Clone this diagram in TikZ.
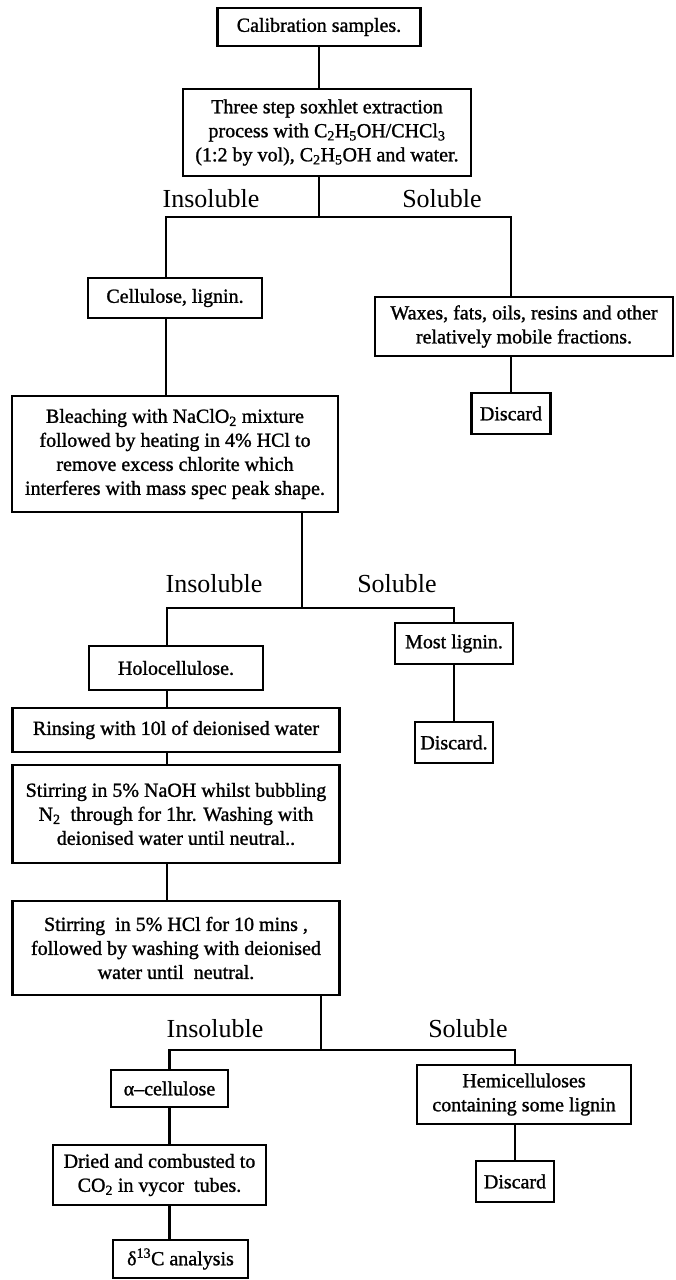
\documentclass[tikz,border=0pt]{standalone}
\usepackage{fontspec}
\setmainfont{Liberation Serif}[BoldFont={Liberation Serif}, BoldFeatures={FakeBold=1.2}]
\usetikzlibrary{positioning}

\begin{document}
\begin{tikzpicture}[
    box/.style={rectangle, draw, line width=2.4pt, align=center, inner sep=2pt, outer sep=0pt, font=\fontsize{20}{24}\selectfont\bfseries},
    branchlabel/.style={anchor=base, font=\fontsize{26}{30}\selectfont},
    line/.style={line width=2.4pt, -}
]

\path[use as bounding box] (0pt,0pt) rectangle (675pt,-1280pt);

% Nodes

\node[box, minimum width=203pt, minimum height=38pt] (calib) at (319pt,-27pt) {Calibration samples.};

\node[box, minimum width=288pt, minimum height=87pt, below=43pt of calib, xshift=8pt] (soxhlet) {Three step soxhlet extraction\\ process with C\textsubscript{2}H\textsubscript{5}OH/CHCl\textsubscript{3}\\ (1:2 by vol), C\textsubscript{2}H\textsubscript{5}OH and water.};

\coordinate[below=41pt of soxhlet.south, xshift=-8pt] (split1);

% First split

\node[box, minimum width=174pt, minimum height=40pt, below=102pt of soxhlet, xshift=-152pt] (cellulose) {Cellulose, lignin.};

\node[box, minimum width=298pt, minimum height=59pt, below=121pt of soxhlet, xshift=197pt] (waxes) {Waxes, fats, oils, resins and other\\ relatively mobile fractions.};

\node[box, minimum width=79pt, minimum height=41pt, below=37pt of waxes, xshift=-13pt] (discardA) {Discard};

\node[box, minimum width=326pt, minimum height=116pt, below=78pt of cellulose] (bleach) {Bleaching with NaClO\textsubscript{2} mixture\\ followed by heating in 4\% HCl to\\ remove excess chlorite which\\ interferes with mass spec peak shape.};

\coordinate[below=96pt of bleach.south, xshift=127pt] (split2);

% Second split

\node[box, minimum width=174pt, minimum height=44pt, below=134pt of bleach, xshift=1pt] (holo) {Holocellulose.};

\node[box, minimum width=118pt, minimum height=41pt, below=111pt of bleach, xshift=279pt] (mostlig) {Most lignin.};

\node[box, minimum width=78pt, minimum height=41pt, below=58pt of mostlig] (discardB) {Discard.};

\node[box, minimum width=327pt, minimum height=44pt, below=18pt of holo] (rinse) {Rinsing with 10l of deionised water};

\node[box, minimum width=327pt, minimum height=98pt, below=13pt of rinse] (naoh) {Stirring in 5\% NaOH whilst bubbling\\ N\textsubscript{2}\ \ through for 1hr. Washing with\\ deionised water until neutral..};

\node[box, minimum width=327pt, minimum height=94pt, below=38pt of naoh] (hcl) {Stirring\ \ in 5\% HCl for 10 mins ,\\ followed by washing with deionised\\ water until\ \ neutral.};

\coordinate[below=55pt of hcl.south, xshift=145pt] (split3);

% Third split

\node[box, minimum width=117pt, minimum height=37pt, below=75pt of hcl, xshift=-6.5pt] (alpha) {α–cellulose};

\node[box, minimum width=213pt, minimum height=60pt, below=38pt of alpha, xshift=-10pt] (dried) {Dried and combusted to\\ CO\textsubscript{2} in vycor\ \ tubes.};

\node[box, minimum width=135pt, minimum height=38pt, below=35pt of dried, xshift=21pt] (delta) {δ\textsuperscript{13}C analysis};

\node[box, minimum width=214pt, minimum height=59pt, below=70pt of hcl, xshift=348pt] (hemi) {Hemicelluloses\\ containing some lignin};

\node[box, minimum width=78pt, minimum height=41pt, below=37pt of hemi, xshift=-9pt] (discardC) {Discard};

% Labels

\node[branchlabel] (insolA) at ([xshift=-108pt, yshift=10pt]split1) {Insoluble};
\node[branchlabel] (solA) at ([xshift=123pt, yshift=10pt]split1) {Soluble};
\node[branchlabel] (insolB) at ([xshift=-88pt, yshift=16pt]split2) {Insoluble};
\node[branchlabel] (solB) at ([xshift=95pt, yshift=16pt]split2) {Soluble};
\node[branchlabel] (insolC) at ([xshift=-106pt, yshift=13pt]split3) {Insoluble};
\node[branchlabel] (solC) at ([xshift=147pt, yshift=13pt]split3) {Soluble};

% Connectors

\draw[line] (calib.south) -- ([xshift=-8pt]soxhlet.north);
\draw[line] ([xshift=-8pt]soxhlet.south) -- (split1);
\draw[line] ([xshift=-9pt]cellulose.north) |- (split1) -| ([xshift=-13pt]waxes.north);
\draw[line] ([xshift=-13pt]waxes.south) -- (discardA.north);
\draw[line] ([xshift=-9pt]cellulose.south) -- ([xshift=-9pt]bleach.north);

\draw[line] ([xshift=127pt]bleach.south) -- (split2);
\draw[line] ([xshift=-9pt]holo.north) |- (split2) -| (mostlig.north);
\draw[line] (mostlig.south) -- (discardB.north);
\draw[line] ([xshift=-9pt]holo.south) -- ([xshift=-9pt]rinse.north);
\draw[line] ([xshift=-9pt]rinse.south) -- ([xshift=-9pt]naoh.north);
\draw[line] ([xshift=-9pt]naoh.south) -- ([xshift=-9pt]hcl.north);

\draw[line] ([xshift=145pt]hcl.south) -- (split3);
\draw[line] (alpha.north) |- (split3) -| ([xshift=-9pt]hemi.north);
\draw[line] (alpha.south) -- ([xshift=10pt]dried.north);
\draw[line] ([xshift=10pt]dried.south) -- ([xshift=-11pt]delta.north);
\draw[line] ([xshift=-9pt]hemi.south) -- (discardC.north);

\end{tikzpicture}
\end{document}
